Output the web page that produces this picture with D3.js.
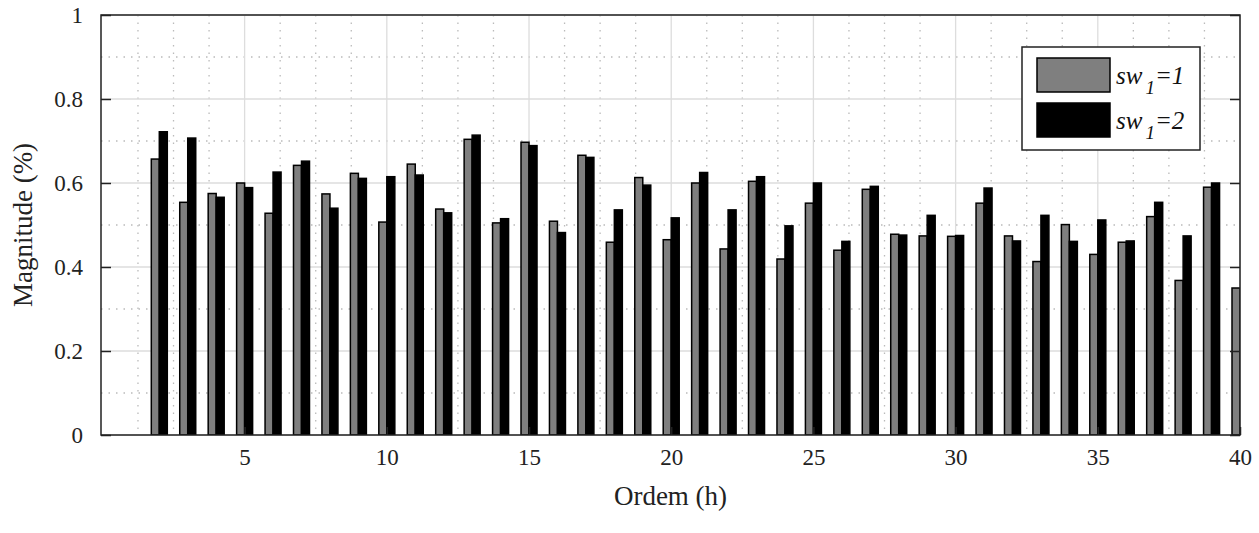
<!DOCTYPE html>
<html><head><meta charset="utf-8">
<script src="https://cdn.jsdelivr.net/npm/d3@7"></script>
<style>body{margin:0;background:#fff}text{font-family:"Liberation Serif","Times New Roman",serif}</style>
</head><body>
<svg id="chart" width="1259" height="533"></svg>
<script>
// harmonic orders and magnitudes (%)
var orders = d3.range(2, 41);
var sw1 = [0.657,0.554,0.575,0.600,0.528,0.642,0.574,0.623,0.507,0.645,0.538,0.704,0.505,0.697,0.509,0.666,0.459,0.613,0.465,
           0.600,0.443,0.604,0.419,0.552,0.440,0.585,0.478,0.474,0.473,0.552,0.474,0.413,0.501,0.430,0.459,0.520,0.368,0.590,0.350];
var sw2 = [0.722,0.707,0.566,0.589,0.626,0.652,0.540,0.611,0.615,0.619,0.529,0.714,0.515,0.689,0.482,0.661,0.536,0.595,0.517,
           0.625,0.536,0.615,0.498,0.600,0.461,0.592,0.476,0.523,0.475,0.588,0.462,0.523,0.461,0.512,0.462,0.554,0.474,0.600,null];
var xTicks = [5,10,15,20,25,30,35,40];
var yTicks = [0,0.2,0.4,0.6,0.8,1];
var seriesNames = ["1","2"];
var colors = ["#7f7f7f","#000000"];

var mLeft = 101, mRight = 1240, mTop = 15, mBottom = 435;
var svg = d3.select("#chart");
var x = d3.scaleLinear().domain([-0.05,40]).range([mLeft,mRight]);
var y = d3.scaleLinear().domain([0,1]).range([mBottom,mTop]);

var plot = svg.append("g");
svg.append("clipPath").attr("id","clip").append("rect")
  .attr("x",mLeft).attr("y",mTop).attr("width",mRight-mLeft).attr("height",mBottom-mTop);

// minor dotted grid
var minorX = d3.range(1.25, 40, 1.25).filter(function(v){ return Math.abs(v/5 - Math.round(v/5)) > 1e-6; });
plot.selectAll(".mx").data(minorX).enter().append("line")
  .attr("x1",function(d){return x(d);}).attr("x2",function(d){return x(d);})
  .attr("y1",mTop).attr("y2",mBottom).attr("stroke","#bbb").attr("stroke-width",1.3).attr("stroke-dasharray","1.5,6");
plot.selectAll(".my").data([0.1,0.3,0.5,0.7,0.9]).enter().append("line")
  .attr("x1",mLeft).attr("x2",mRight).attr("y1",function(d){return y(d);}).attr("y2",function(d){return y(d);})
  .attr("stroke","#bbb").attr("stroke-width",1.3).attr("stroke-dasharray","1.5,6");
// major grid
plot.selectAll(".gx").data(xTicks).enter().append("line")
  .attr("x1",function(d){return x(d);}).attr("x2",function(d){return x(d);})
  .attr("y1",mTop).attr("y2",mBottom).attr("stroke","#ddd").attr("stroke-width",1.3);
plot.selectAll(".gy").data(yTicks).enter().append("line")
  .attr("x1",mLeft).attr("x2",mRight).attr("y1",function(d){return y(d);}).attr("y2",function(d){return y(d);})
  .attr("stroke","#ddd").attr("stroke-width",1.3);

// bars
var bw = 8;
var bars = svg.append("g").attr("clip-path","url(#clip)");
[sw1, sw2].forEach(function(vals, s){
  bars.selectAll(".b"+s).data(orders.map(function(o,i){return {o:o, v:vals[i]};}).filter(function(d){return d.v!=null;}))
    .enter().append("rect")
    .attr("x",function(d){return x(d.o) + (s===0 ? -bw : 0);})
    .attr("y",function(d){return y(d.v);})
    .attr("width",bw).attr("height",function(d){return mBottom - y(d.v);})
    .attr("fill",colors[s]).attr("stroke","#000").attr("stroke-width",1.5);
});

// axes
svg.append("rect").attr("x",mLeft).attr("y",mTop).attr("width",mRight-mLeft).attr("height",mBottom-mTop)
  .attr("fill","none").attr("stroke","#222").attr("stroke-width",1.5);
svg.append("g").attr("transform","translate(0,"+mBottom+")")
  .call(d3.axisBottom(x).tickValues(xTicks).tickSize(-8).tickPadding(14))
  .call(function(g){g.select(".domain").remove(); g.selectAll("text").attr("font-size",23).attr("fill","#222");});
svg.append("g").attr("transform","translate("+mLeft+",0)")
  .call(d3.axisLeft(y).tickValues(yTicks).tickFormat(d3.format("")).tickSize(-10).tickPadding(18))
  .call(function(g){g.select(".domain").remove(); g.selectAll("text").attr("font-size",23).attr("fill","#222");});
svg.append("g").attr("transform","translate("+mRight+",0)")
  .call(d3.axisRight(y).tickValues(yTicks).tickSize(-10).tickFormat(""))
  .call(function(g){g.select(".domain").remove();});
svg.selectAll(".tick line").attr("stroke","#222").attr("stroke-width",1.5);

svg.append("text").attr("x",(mLeft+mRight)/2).attr("y",505).attr("text-anchor","middle")
  .attr("font-size",27).attr("fill","#222").text("Ordem (h)");
svg.append("text").attr("transform","translate(32,"+((mTop+mBottom)/2)+") rotate(-90)")
  .attr("text-anchor","middle").attr("font-size",27).attr("fill","#222").text("Magnitude (%)");

// legend
var lg = svg.append("g").attr("transform","translate(1022,47)");
lg.append("rect").attr("width",178).attr("height",103).attr("fill","#fff").attr("stroke","#222").attr("stroke-width",1.5);
seriesNames.forEach(function(n,i){
  lg.append("rect").attr("x",15).attr("y",11+i*45).attr("width",73).attr("height",34)
    .attr("fill",colors[i]).attr("stroke","#000").attr("stroke-width",1.5);
  var t = lg.append("text").attr("x",94).attr("y",37+i*45).attr("font-size",25).attr("font-style","italic").attr("fill","#111");
  t.append("tspan").text("sw");
  t.append("tspan").attr("dy",10).attr("dx",3).attr("font-size",19).text("1");
  t.append("tspan").attr("dy",-10).text("=" + n);
});
</script>
</body></html>
